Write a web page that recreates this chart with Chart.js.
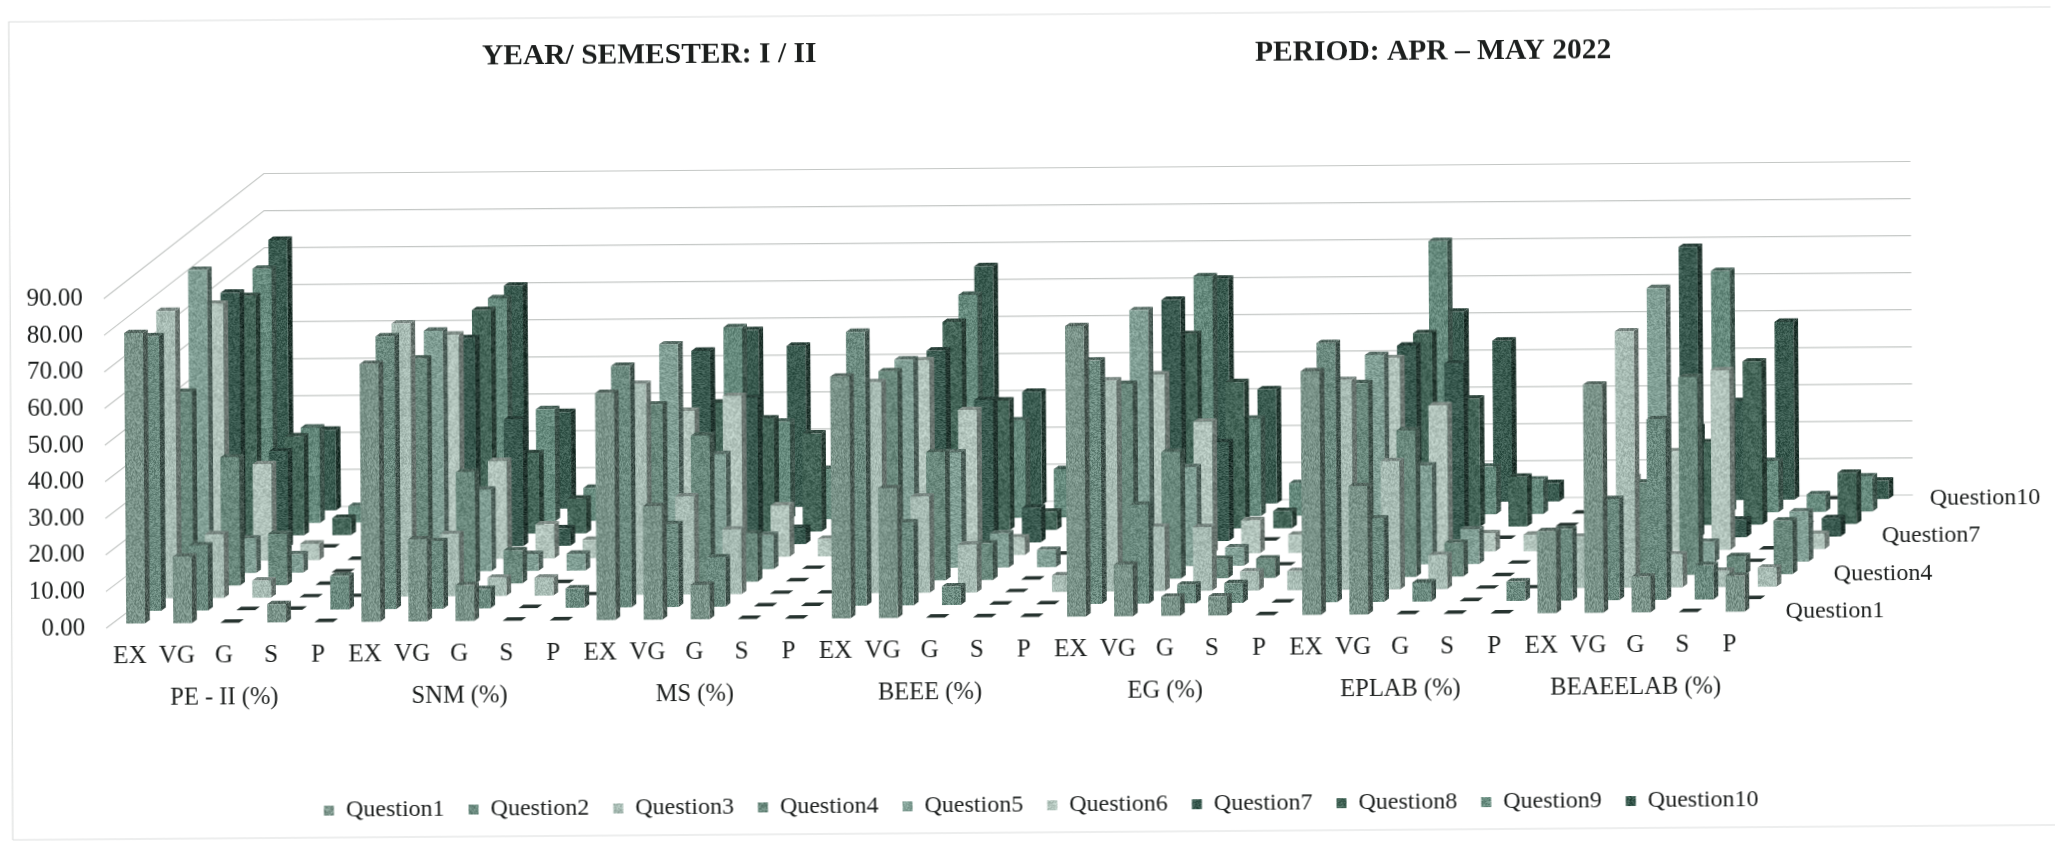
<!DOCTYPE html>
<html>
<head>
<meta charset="utf-8">
<title>Feedback chart</title>
<script src="https://cdn.jsdelivr.net/npm/chart.js@4"></script>
<style>
  html, body { margin: 0; background: #fff; overflow: hidden; }
  /* the scan sits slightly tilted */
  #chart { display: block; transform-origin: 0 600px; transform: rotate(-0.42deg); }
</style>
</head>
<body>
<canvas id="chart" width="2055" height="843"></canvas>
<script>
var grades = ['EX', 'VG', 'G', 'S', 'P'];
var subjects = ['PE - II (%)', 'SNM (%)', 'MS (%)', 'BEEE (%)', 'EG (%)', 'EPLAB (%)', 'BEAEELAB (%)'];
var questions = ['Question1', 'Question2', 'Question3', 'Question4', 'Question5', 'Question6', 'Question7', 'Question8', 'Question9', 'Question10'];
var depthLabels = ['Question1', 'Question4', 'Question7', 'Question10'];
var yTicks = [0, 10, 20, 30, 40, 50, 60, 70, 80, 90];

// one row per subject: EX, VG, G, S, P
var question1 = [79.3, 18.2, 0, 5, 0,  70.4, 22.4, 9.8, 0, 0,  62, 31, 9.4, 0, 0,  66, 35.4, 0, 0, 0,  79.3, 14.1, 5.2, 5.2, 0,  66.5, 35, 0, 0, 0,  22.4, 62.3, 9.8, 0, 9.8];
var question2 = [75, 17.8, 0, 0, 9.2,  74.5, 18.5, 5.3, 0, 5.3,  66, 22.6, 13.5, 0, 0,  74.8, 22.6, 5.1, 0, 0,  66.5, 27, 5.1, 5.4, 0,  70.8, 22.8, 5.2, 0, 5.3,  19.5, 27.6, 49.3, 9.4, 0];
var question3 = [78.5, 17.4, 4.7, 0, 0,  74.6, 17, 5, 4.9, 0,  57.6, 26.8, 17.7, 0, 0,  57.6, 26.3, 13.1, 0, 4.5,  57.6, 17.6, 17.4, 5.2, 5.2,  57.3, 35, 9.3, 0, 0,  14, 70, 9, 4.4, 5.2];
var question4 = [53, 35, 14, 0, 0,  61.6, 30.5, 9, 0, 0,  48.6, 40, 13.2, 0, 0,  57.2, 35, 10, 0, 0,  53.3, 34.6, 5.3, 5.3, 0,  53, 40, 9.2, 0, 0,  0, 25.3, 54, 5, 14.6];
var question5 = [82.9, 9.5, 5, 0, 0,  65.8, 22.3, 4.6, 4.6, 0,  61.6, 31.5, 9.3, 0, 0,  57, 31.5, 9.3, 4.7, 0,  70, 27, 5, 0, 0,  57.3, 27, 9.5, 0, 5,  5, 75, 5.6, 0, 13.7];
var question6 = [70.2, 26.3, 4.5, 0, 0,  61.3, 26.7, 9.3, 5, 0,  40, 44, 14, 4.8, 0,  53.3, 39.7, 4.8, 0, 0,  49, 36, 9, 5, 0,  53, 40, 5, 4.5, 0,  20, 27, 49, 0, 4.2];
var question7 = [69.8, 26.4, 0, 0, 0,  56.9, 34.6, 4.8, 0, 0,  53, 40, 4.4, 0, 0,  52.6, 39, 9.5, 0, 0,  66, 27, 0, 5, 0,  53, 48, 0, 0, 0,  10, 79.4, 4.8, 0, 5];
var question8 = [65.5, 27, 4.7, 0, 0,  61.2, 22, 9.5, 5, 0,  35.4, 31, 26.8, 5, 0,  57, 35.4, 5, 0, 0,  53.2, 40, 4.7, 0, 0,  53, 35, 13.6, 0, 0,  20, 22.6, 44.6, 0, 14];
var question9 = [69.5, 26, 4.5, 0, 0,  61, 30.6, 9, 0, 0,  52.6, 26.7, 13.7, 5, 0,  61, 26.6, 13.2, 0, 0,  65.6, 26.6, 8.9, 0, 0,  74.7, 13, 9.4, 0, 0,  5, 66, 14, 4.8, 9.6];
var question10 = [74, 22, 4, 0, 0,  61, 26.4, 9, 4, 0,  48.4, 44, 8, 0, 0,  65.4, 31, 4, 0, 0,  61.5, 31.2, 5, 0, 0,  52, 44, 5, 0, 0,  20, 27, 48.6, 0, 5];

var seriesValues = [question1, question2, question3, question4, question5, question6, question7, question8, question9, question10];
var seriesColors = ['#7a9389', '#6c8b80', '#a8bcb4', '#6a897d', '#82a096', '#b3c5bd', '#3a5a50', '#456659', '#668a7d', '#3a5b50'];

var serif = "'Liberation Serif', serif";

// size of the fake 3D box
var rowStepX = 16.1, rowStepY = 12.4, rowStart = 0.37;
var wallX = 161, wallY = 120, wallStretch = 4;
var barDepthX = 4.8, barDepthY = 3.4;

// scanner grain, fixed seed so every run looks the same
function grain(hex, f) {
  var n = parseInt(hex.slice(1), 16);
  var c = document.createElement('canvas');
  c.width = c.height = 48;
  var g = c.getContext('2d'), img = g.createImageData(48, 48);
  var seed = n % 9973 + 17;
  for (var i = 0; i < img.data.length; i += 4) {
    seed = (seed * 16807) % 2147483647;
    var d = (seed % 61) - 30;
    img.data[i] = ((n >> 16) * f + d);
    img.data[i + 1] = (((n >> 8) & 255) * f + d);
    img.data[i + 2] = ((n & 255) * f + d);
    img.data[i + 3] = 255;
  }
  g.putImageData(img, 0, 0);
  return g.createPattern(c, 'repeat');
}

var frontFills = seriesColors.map(function (c) { return grain(c, 1); });
var sideFills = seriesColors.map(function (c) { return grain(c, 0.6); });
var topFills = seriesColors.map(function (c) { return grain(c, 0.72); });

function poly(ctx, pts, fill) {
  ctx.fillStyle = fill;
  ctx.beginPath();
  ctx.moveTo(pts[0][0], pts[0][1]);
  for (var i = 1; i < pts.length; i++) ctx.lineTo(pts[i][0], pts[i][1]);
  ctx.closePath();
  ctx.fill();
}

var depthPlugin = {
  id: 'depth',
  afterLayout: function (chart) {
    // legend sits on its own line, not centred on the plot
    chart.legend.right = 1781;
    chart.legend.top = 777;
  },
  beforeDatasetsDraw: function (chart) {
    var ctx = chart.ctx, y = chart.scales.y, a = chart.chartArea;
    ctx.save();
    ctx.strokeStyle = '#c4c7c5';
    ctx.lineWidth = 1.2;
    y.ticks.forEach(function (t) {
      var py = y.getPixelForValue(t.value);
      // back wall is a little taller than the front plane
      var back = py - wallY - wallStretch * t.value / y.max;
      ctx.beginPath();
      ctx.moveTo(a.left, py);
      ctx.lineTo(a.left + wallX, back);
      ctx.lineTo(a.right + wallX, back);
      ctx.stroke();
    });
    ctx.restore();
  },
  beforeDatasetDraw: function (chart, args) {
    var ctx = chart.ctx, r = args.index + rowStart, idx = args.index;
    ctx.save();
    ctx.translate(r * rowStepX, -r * rowStepY);
    args.meta.data.forEach(function (bar) {
      var l = bar.x - bar.width / 2, rt = bar.x + bar.width / 2;
      var empty = bar.base - bar.y < 0.5;
      if (!empty) {
        poly(ctx, [[rt, bar.y], [rt + barDepthX, bar.y - barDepthY], [rt + barDepthX, bar.base - barDepthY], [rt, bar.base]], sideFills[idx]);
      }
      poly(ctx, [[l, bar.y], [rt, bar.y], [rt + barDepthX, bar.y - barDepthY], [l + barDepthX, bar.y - barDepthY]], empty ? '#26332f' : topFills[idx]);
    });
  },
  afterDatasetDraw: function (chart) {
    chart.ctx.restore();
  },
  afterDraw: function (chart) {
    var ctx = chart.ctx, y = chart.scales.y, a = chart.chartArea;
    ctx.save();
    ctx.fillStyle = '#1c1f1e';
    ctx.textBaseline = 'middle';
    // heading
    ctx.font = 'bold 29.5px ' + serif;
    ctx.fillText('YEAR/ SEMESTER: I / II', 486, 60);
    ctx.fillText('PERIOD: APR – MAY 2022', 1259, 62);
    // names along the depth axis
    ctx.font = '24px ' + serif;
    depthLabels.forEach(function (name) {
      var r = questions.indexOf(name) + rowStart;
      ctx.fillText(name, a.right + r * rowStepX + 27, y.getPixelForValue(0) - r * rowStepY);
    });
    // frame of the pasted chart
    ctx.strokeStyle = '#dcdedd';
    ctx.lineWidth = 1.2;
    ctx.beginPath();
    ctx.moveTo(11, 840);
    ctx.lineTo(13, 22);
    ctx.lineTo(2055, 22);
    ctx.moveTo(11, 840);
    ctx.lineTo(2055, 840);
    ctx.stroke();
    ctx.restore();
  }
};

var labels = [];
subjects.forEach(function () { labels = labels.concat(grades); });

var datasets = questions.map(function (name, i) {
  return {
    label: name,
    data: seriesValues[i],
    backgroundColor: frontFills[i],
    borderWidth: 0,
    clip: false
  };
});

new Chart(document.getElementById('chart'), {
  type: 'bar',
  data: { labels: labels, datasets: datasets },
  plugins: [depthPlugin],
  options: {
    responsive: false,
    animation: false,
    events: [],
    grouped: false,
    barPercentage: 0.4,
    categoryPercentage: 1,
    layout: { padding: { top: 299.5, right: 302.4, left: 0, bottom: 10 } },
    plugins: {
      tooltip: { enabled: false },
      legend: {
        position: 'bottom',
        align: 'end',
        labels: {
          boxWidth: 10,
          boxHeight: 10,
          padding: 24,
          color: '#1c1f1e',
          font: { family: serif, size: 24 }
        }
      }
    },
    scales: {
      x: {
        offset: true,
        weight: 0,
        grid: { display: false },
        border: { display: false },
        afterFit: function (s) { s.height = 40; },
        ticks: { autoSkip: false, maxRotation: 0, padding: 5, color: '#1c1f1e', font: { family: serif, size: 25 } }
      },
      x2: {
        type: 'category',
        labels: subjects,
        position: 'bottom',
        offset: true,
        weight: 1,
        grid: { display: false },
        border: { display: false },
        afterFit: function (s) { s.height = 106; },
        ticks: { autoSkip: false, maxRotation: 0, padding: 8, color: '#1c1f1e', font: { family: serif, size: 24.5 } }
      },
      y: {
        min: 0,
        max: 90,
        grid: { display: false, drawTicks: false },
        border: { display: false },
        afterFit: function (s) { s.width = 106; },
        afterBuildTicks: function (s) { s.ticks = yTicks.map(function (v) { return { value: v }; }); },
        ticks: {
          padding: 21,
          color: '#1c1f1e',
          font: { family: serif, size: 25 },
          callback: function (v) { return v.toFixed(2); }
        }
      }
    }
  }
});
</script>
</body>
</html>
